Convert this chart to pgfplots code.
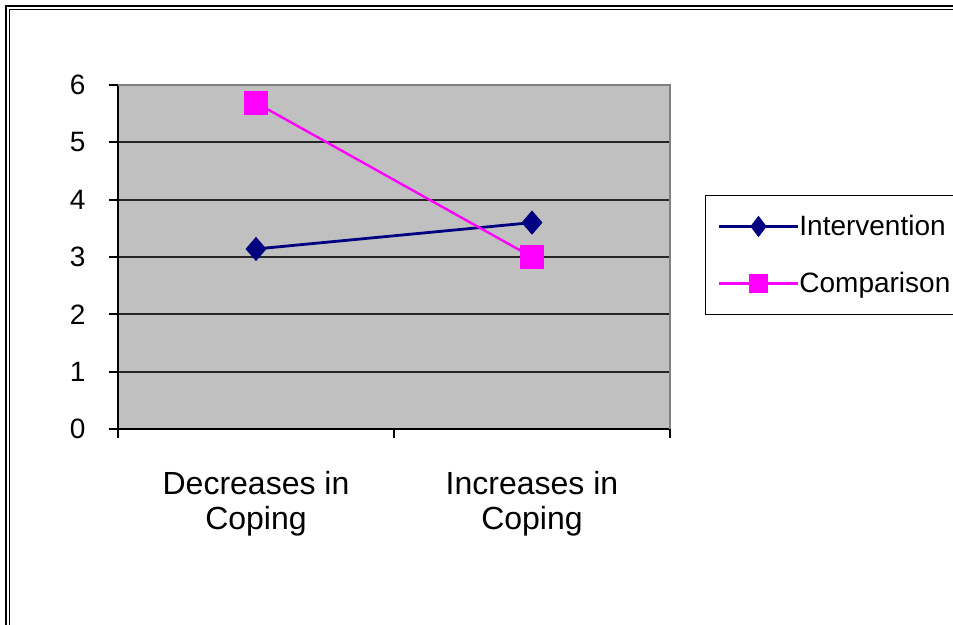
\documentclass[border=0pt]{standalone}
\usepackage{pgfplots}
\pgfplotsset{compat=1.18}
\usepackage{fontspec}
\setmainfont{Liberation Sans}

\definecolor{plotgray}{HTML}{C0C0C0}
\definecolor{edgegray}{HTML}{808080}
\definecolor{navyline}{HTML}{000080}
\definecolor{magentaline}{HTML}{FF00FF}

\begin{document}
\begin{tikzpicture}
\clip (0,0) rectangle (476.5pt,312.5pt);
% double frame around the figure
\draw[line width=1.2pt] (3pt,-5pt) -- (3pt,309.5pt) -- (490pt,309.5pt);
\draw[line width=0.6pt] (4.9pt,-5pt) -- (4.9pt,307.6pt) -- (490pt,307.6pt);
\begin{axis}[
  at={(59pt,98pt)}, anchor=south west,
  width=276pt, height=172pt, scale only axis,
  xmin=-0.5, xmax=1.5, ymin=0, ymax=6,
  axis lines*=left,
  axis line style={black, line width=1.1pt},
  axis background/.style={fill=plotgray},
  xtick={-0.5,0.5,1.5}, xticklabels={,,},
  extra x ticks={0,1},
  extra x tick labels={{Decreases in\\Coping},{Increases in\\Coping}},
  extra x tick style={major tick length=0pt,
    tick label style={align=center, font=\fontsize{16pt}{17.5pt}\selectfont, yshift=-17.5pt}},
  ytick={0,...,6},
  tick align=outside,
  major tick length=4.7pt,
  tick style={black, line width=0.9pt},
  ymajorgrids,
  major grid style={black!85, line width=0.9pt},
  /pgf/number format/assume math mode=true,
  yticklabel style={font=\fontsize{14pt}{17pt}\selectfont, xshift=-8pt},
  clip=false,
  legend style={
    at={(rel axis cs:1.0634,0.680)}, anchor=north west,
    draw=black, line width=0.6pt, fill=white,
    font=\fontsize{14pt}{17pt}\selectfont,
    inner xsep=6pt, inner ysep=7.75pt,
    row sep=13.25pt,
    nodes={inner sep=0pt, text height=12.25pt, text depth=3pt},
    /tikz/every even column/.append style={column sep=3pt},
  },
  legend cell align=left,
]
% top and right edges of the plot area
\draw[edgegray, line width=1.3pt] (rel axis cs:0,1) -- (rel axis cs:1,1) -- (rel axis cs:1,0);

\addplot[navyline, line width=1.4pt, mark=diamond*, mark size=5pt,
  mark options={xscale=1.15},
  legend image code/.code={
    \draw[navyline, line width=1.4pt] (0pt,0pt) -- (39.5pt,0pt);
    \fill[navyline] (19.75pt,0pt) +(0,4.2pt) -- +(3.2pt,0) -- +(0,-4.2pt) -- +(-3.2pt,0) -- cycle;
  }]
  coordinates {(0,3.14) (1,3.6)};
\addlegendentry{Intervention}

\addplot[magentaline, line width=1.2pt, mark=square*, mark size=5.5pt,
  legend image code/.code={
    \draw[magentaline, line width=1.2pt] (0pt,0pt) -- (39.5pt,0pt);
    \fill[magentaline] (15.5pt,-4.25pt) rectangle (24pt,4.25pt);
  }]
  coordinates {(0,5.69) (1,3.0)};
\addlegendentry{Comparison}
\end{axis}
\end{tikzpicture}
\end{document}
